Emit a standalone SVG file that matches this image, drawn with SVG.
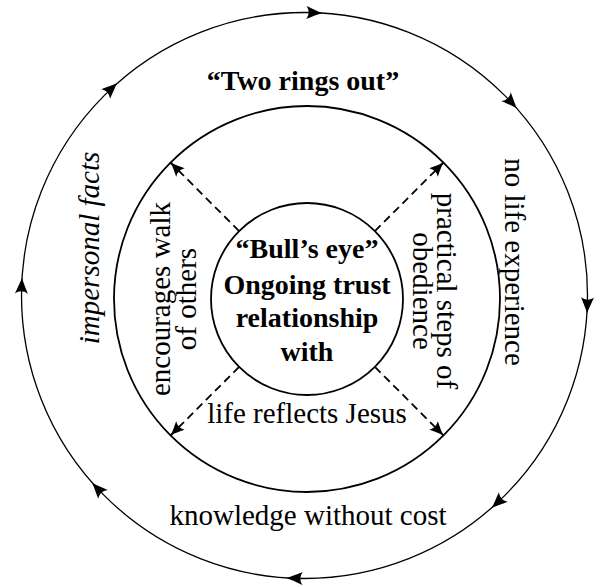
<svg xmlns="http://www.w3.org/2000/svg" xmlns:xlink="http://www.w3.org/1999/xlink" width="608" height="587" viewBox="0 0 608 587">
<style>
.t{font-family:"Liberation Serif","Times New Roman",serif;font-size:29px;fill:#000;text-anchor:middle}
.b{font-weight:bold;font-size:28px}
.i{font-style:italic}
.ring{fill:none;stroke:#000}
.dash{fill:none;stroke:#000;stroke-width:1.8;stroke-dasharray:8 5}
</style>
<defs>
<path id="ah" d="M0,0 C-4.5,-1.4 -10,-4 -16,-6.5 C-13,-2.2 -13,2.2 -16,6.5 C-10,4 -4.5,1.4 0,0 Z" fill="#000"/>
<marker id="dm" markerUnits="userSpaceOnUse" markerWidth="20" markerHeight="20" viewBox="-17 -9 20 18" refX="0" refY="0" orient="auto">
<path d="M0,0 C-4.5,-1.3 -9,-3.6 -14,-6 C-11.5,-2 -11.5,2 -14,6 C-9,3.6 -4.5,1.3 0,0 Z" fill="#000"/>
</marker>
</defs>
<g id="outer-ring">
<circle class="ring" cx="304.5" cy="295.5" r="283" stroke-width="1.3"/>
<g transform="translate(304.5 295.5)">
<use xlink:href="#ah" href="#ah" transform="rotate(2) translate(8 -283)"/>
<use xlink:href="#ah" href="#ah" transform="rotate(47) translate(8 -283)"/>
<use xlink:href="#ah" href="#ah" transform="rotate(92) translate(8 -283)"/>
<use xlink:href="#ah" href="#ah" transform="rotate(137) translate(8 -283)"/>
<use xlink:href="#ah" href="#ah" transform="rotate(182) translate(8 -283)"/>
<use xlink:href="#ah" href="#ah" transform="rotate(227) translate(8 -283)"/>
<use xlink:href="#ah" href="#ah" transform="rotate(272) translate(8 -283)"/>
<use xlink:href="#ah" href="#ah" transform="rotate(317) translate(8 -283)"/>
</g>
<text class="t b" x="303" y="90">“Two rings out”</text>
<text class="t i" transform="translate(99 248) rotate(-90)">impersonal facts</text>
<text class="t" transform="translate(505 262) rotate(90)">no life experience</text>
<text class="t" x="308" y="525">knowledge without cost</text>
</g>
<g id="middle-ring">
<circle class="ring" cx="307" cy="299" r="193" stroke-width="1.8"/>
<text class="t" transform="translate(170 299) rotate(-90)">encourages walk</text>
<text class="t" transform="translate(196 299) rotate(-90)">of others</text>
<text class="t" transform="translate(437 291) rotate(90)">practical steps of</text>
<text class="t" transform="translate(413 291) rotate(90)">obedience</text>
<text class="t" x="307" y="423">life reflects Jesus</text>
</g>
<g id="bulls-eye">
<circle class="ring" cx="307" cy="299" r="96" stroke-width="1.8"/>
<text class="t b" x="307" y="258">“Bull’s eye”</text>
<text class="t b" x="307" y="294">Ongoing trust</text>
<text class="t b" x="307" y="327">relationship</text>
<text class="t b" x="307" y="361">with</text>
</g>
<g id="connectors">
<line class="dash" x1="239.1" y1="231.1" x2="170.5" y2="162.5" marker-end="url(#dm)"/>
<line class="dash" x1="374.9" y1="231.1" x2="443.5" y2="162.5" marker-end="url(#dm)"/>
<line class="dash" x1="239.1" y1="366.9" x2="170.5" y2="435.5" marker-end="url(#dm)"/>
<line class="dash" x1="374.9" y1="366.9" x2="443.5" y2="435.5" marker-end="url(#dm)"/>
</g>
</svg>
